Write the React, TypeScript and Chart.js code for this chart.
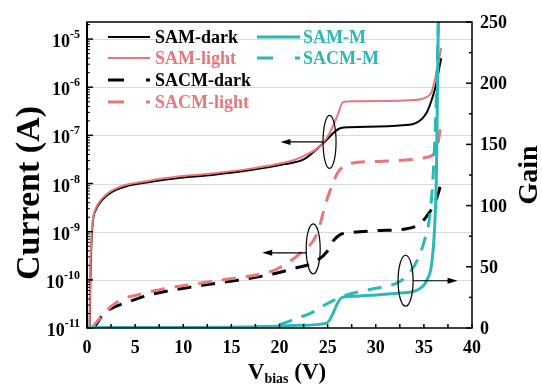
import React, { useEffect, useRef } from 'react';
import { Chart, registerables } from 'chart.js';
Chart.register(...registerables);

// ---- data ----
const samDarkV = [0.28, 0.35, 0.45, 0.6, 0.9, 1.35, 2, 2.7, 4, 6.2, 9.7, 13, 17, 20.4, 22.5, 24.5, 26.3, 27.3, 32.8, 34.3, 35.3, 35.8, 36.2, 36.6, 36.8];
const samDarkI = [1.0e-11, 1.0e-10, 5.0e-10, 1.58e-9, 2.8e-9, 4.0e-9, 5.5e-9, 6.9e-9, 8.7e-9, 1.05e-8, 1.32e-8, 1.51e-8, 1.9e-8, 2.5e-8, 3.16e-8, 6.76e-8, 1.41e-7, 1.48e-7, 1.62e-7, 1.86e-7, 3.0e-7, 5.37e-7, 1.0e-6, 2.5e-6, 4.0e-6];

const samLightV = [0.26, 0.33, 0.43, 0.6, 0.9, 1.35, 2, 2.7, 4, 6.2, 9.7, 13, 17, 20.4, 22.1, 24.9, 26.0, 26.6, 27.5, 34, 35.3, 35.8, 36.2, 36.5, 36.8];
const samLightI = [1.0e-11, 1.0e-10, 5.5e-10, 1.7e-9, 3.0e-9, 4.3e-9, 5.9e-9, 7.4e-9, 9.3e-9, 1.12e-8, 1.41e-8, 1.62e-8, 2.04e-8, 2.7e-8, 3.4e-8, 8.7e-8, 2.5e-7, 4.9e-7, 5.1e-7, 5.4e-7, 6.3e-7, 7.9e-7, 1.6e-6, 3.2e-6, 6.5e-6];

const sacmDarkV = [0.7, 1.2, 1.7, 3, 4.5, 6.2, 9.7, 13.1, 16.6, 19.3, 21.4, 23.9, 25, 25.6, 26.3, 27.3, 30, 33.2, 34.5, 35.3, 36, 36.5, 36.8];
const sacmDarkI = [1.0e-11, 1.41e-11, 2.0e-11, 2.8e-11, 3.6e-11, 4.7e-11, 6.5e-11, 8.3e-11, 1.05e-10, 1.32e-10, 1.7e-10, 2.5e-10, 4.0e-10, 6.5e-10, 8.7e-10, 9.5e-10, 1.05e-9, 1.15e-9, 1.41e-9, 2.1e-9, 3.5e-9, 6.3e-9, 1.05e-8];

const sacmLightV = [0.5, 0.9, 1.7, 2.5, 3.7, 5.5, 7.9, 11.4, 14.9, 18.7, 20, 22.1, 23.9, 24.9, 26, 26.8, 27.3, 30.8, 35.3, 36.3, 36.8];
const sacmLightI = [1.0e-11, 1.26e-11, 1.95e-11, 2.8e-11, 4.0e-11, 5.0e-11, 6.5e-11, 8.3e-11, 1.05e-10, 1.41e-10, 1.78e-10, 3.5e-10, 9.1e-10, 4.5e-9, 1.62e-8, 2.4e-8, 2.6e-8, 2.9e-8, 3.5e-8, 5.0e-8, 1.78e-7];

const samMV = [0, 5, 10, 15, 18, 20, 22, 24.9, 26.5, 28, 30, 32.5, 34.3, 35.3, 35.8, 36.1, 36.3, 36.5];
const samMGain = [0.5, 0.5, 0.5, 0.6, 1, 1.5, 2.2, 4, 25, 26, 27, 28.6, 31, 39, 52, 80, 125, 250];

const sacmMV = [0, 15, 19, 20.5, 21.8, 23.2, 25.2, 27, 29.1, 32.5, 33.5, 34.3, 35, 35.6, 36, 36.3, 36.5];
const sacmMGain = [0.3, 0.5, 1.5, 4, 8, 12, 21, 27, 31, 38, 45, 55, 70, 91, 130, 190, 250];

const xTicks = [0, 5, 10, 15, 20, 25, 30, 35, 40];
const gainTicks = [0, 50, 100, 150, 200, 250];
const currentExponents = [-11, -10, -9, -8, -7, -6, -5];
const legendLabels = ['SAM-dark', 'SAM-light', 'SACM-dark', 'SACM-light', 'SAM-M', 'SACM-M'];

const BLACK = '#000000';
const RED = '#E8767A';
const TEAL = '#2BB9B8';
const FONT = '"Liberation Serif", "Times New Roman", serif';

const pts = (xs: number[], ys: number[]) => xs.map((x, i) => ({ x, y: ys[i] }));

const drawArrow = (ctx: CanvasRenderingContext2D, x1: number, y1: number, x2: number, y2: number) => {
  ctx.save();
  ctx.strokeStyle = '#000';
  ctx.fillStyle = '#000';
  ctx.lineWidth = 1.2;
  const dir = Math.sign(x2 - x1);
  ctx.beginPath();
  ctx.moveTo(x1, y1);
  ctx.lineTo(x2 - dir * 6, y2);
  ctx.stroke();
  ctx.beginPath();
  ctx.moveTo(x2, y2);
  ctx.lineTo(x2 - dir * 10, y2 - 3);
  ctx.lineTo(x2 - dir * 10, y2 + 3);
  ctx.closePath();
  ctx.fill();
  ctx.restore();
};

const decorPlugin = {
  id: 'decor',
  beforeDatasetsDraw(chart: any) {
    const { ctx, chartArea: a, scales } = chart;
    ctx.save();
    ctx.strokeStyle = '#d9d9d9';
    ctx.lineWidth = 1;
    currentExponents.forEach((e) => {
      if (e === -11) return;
      const y = Math.round(scales.y.getPixelForValue(Math.pow(10, e))) + 0.5;
      ctx.beginPath();
      ctx.moveTo(a.left, y);
      ctx.lineTo(a.right, y);
      ctx.stroke();
    });
    ctx.restore();
  },
  afterDatasetsDraw(chart: any) {
    const { ctx, chartArea: a, scales } = chart;
    const sx = scales.x, sy = scales.y, sg = scales.gain;
    ctx.save();
    // frame
    ctx.strokeStyle = '#000';
    ctx.lineWidth = 1.5;
    ctx.strokeRect(a.left, a.top, a.right - a.left, a.bottom - a.top);
    ctx.beginPath();
    ctx.lineWidth = 2;
    ctx.moveTo(a.left, a.top);
    ctx.lineTo(a.left, a.bottom);
    ctx.stroke();
    ctx.lineWidth = 1.5;
    // x ticks
    for (let v = 0; v <= 40; v += 2.5) {
      const x = sx.getPixelForValue(v);
      ctx.beginPath();
      ctx.moveTo(x, a.bottom);
      ctx.lineTo(x, a.bottom - 4);
      ctx.stroke();
    }
    // left log ticks
    currentExponents.forEach((e) => {
      const y = sy.getPixelForValue(Math.pow(10, e));
      ctx.beginPath();
      ctx.moveTo(a.left, y);
      ctx.lineTo(a.left + 6, y);
      ctx.stroke();
      for (let m = 2; m <= 9; m++) {
        const val = m * Math.pow(10, e);
        if (val > sy.max) break;
        const ym = sy.getPixelForValue(val);
        ctx.beginPath();
        ctx.lineWidth = 1;
        ctx.moveTo(a.left, ym);
        ctx.lineTo(a.left + 3, ym);
        ctx.stroke();
        ctx.lineWidth = 1.5;
      }
    });
    // right ticks
    for (let g = 0; g <= 250; g += 25) {
      const y = sg.getPixelForValue(g);
      const major = g % 50 === 0;
      ctx.beginPath();
      ctx.moveTo(a.right, y);
      ctx.lineTo(a.right - (major ? 6 : 3), y);
      ctx.stroke();
    }
    // tick labels
    ctx.fillStyle = '#000';
    ctx.font = `bold 18px ${FONT}`;
    ctx.textBaseline = 'alphabetic';
    ctx.textAlign = 'center';
    xTicks.forEach((v) => {
      ctx.fillText(String(v), sx.getPixelForValue(v), a.bottom + 25);
    });
    ctx.textAlign = 'left';
    gainTicks.forEach((g) => {
      ctx.fillText(String(g), a.right + 8, sg.getPixelForValue(g) + 6);
    });
    currentExponents.forEach((e) => {
      const y = sy.getPixelForValue(Math.pow(10, e));
      const sup = String(e);
      ctx.font = `bold 12px ${FONT}`;
      const ws = ctx.measureText(sup).width;
      ctx.font = `bold 18px ${FONT}`;
      const wb = ctx.measureText('10').width;
      const right = a.left - 7;
      ctx.fillText('10', right - ws - wb, y + 8);
      ctx.font = `bold 12px ${FONT}`;
      ctx.fillText(sup, right - ws, y - 1);
    });
    // axis titles
    ctx.textAlign = 'center';
    ctx.font = `bold 34px ${FONT}`;
    ctx.save();
    ctx.translate(39, 193);
    ctx.rotate(-Math.PI / 2);
    ctx.fillText('Current (A)', 0, 0);
    ctx.restore();
    ctx.font = `bold 28px ${FONT}`;
    ctx.save();
    ctx.translate(537, 175);
    ctx.rotate(-Math.PI / 2);
    ctx.fillText('Gain', 0, 0);
    ctx.restore();
    // x title with subscript
    ctx.textAlign = 'left';
    ctx.font = `bold 23px ${FONT}`;
    const wV = ctx.measureText('V').width;
    ctx.font = `bold 14px ${FONT}`;
    const wSub = ctx.measureText('bias').width;
    ctx.font = `bold 23px ${FONT}`;
    const wRest = ctx.measureText(' (V)').width;
    const total = wV + wSub + wRest;
    let cx = 287 - total / 2;
    const by = 379;
    ctx.fillText('V', cx, by);
    cx += wV;
    ctx.font = `bold 14px ${FONT}`;
    ctx.fillText('bias', cx, by + 4);
    cx += wSub;
    ctx.font = `bold 23px ${FONT}`;
    ctx.fillText(' (V)', cx, by);

    // legend
    const rows = [37, 58, 80, 102];
    const items = [
      { col: 0, row: 0, color: BLACK, dash: [] as number[], w: 2 },
      { col: 0, row: 1, color: RED, dash: [], w: 2 },
      { col: 0, row: 2, color: BLACK, dash: [16, 22], w: 3 },
      { col: 0, row: 3, color: RED, dash: [16, 22], w: 3 },
      { col: 1, row: 0, color: TEAL, dash: [], w: 3 },
      { col: 1, row: 1, color: TEAL, dash: [16, 22], w: 3 },
    ];
    const cols = [{ x0: 108, x1: 150, tx: 155 }, { x0: 257, x1: 300, tx: 303 }];
    ctx.font = `bold 18px ${FONT}`;
    ctx.textBaseline = 'middle';
    items.forEach((it, i) => {
      const c = cols[it.col];
      const y = rows[it.row];
      ctx.strokeStyle = it.color;
      ctx.lineWidth = it.w;
      ctx.setLineDash(it.dash);
      ctx.beginPath();
      ctx.moveTo(c.x0, y);
      ctx.lineTo(c.x1, y);
      ctx.stroke();
      ctx.setLineDash([]);
      ctx.fillStyle = it.color;
      ctx.fillText(legendLabels[i], c.tx, y + 1);
    });

    // annotations: ellipses with arrows
    ctx.strokeStyle = '#000';
    ctx.lineWidth = 1.2;
    const ells = [
      { v: 25.2, i: 7.3e-8, rx: 6.5, ry: 26.5, toV: 20.1, dirRight: false, dy: 0 },
      { v: 23.5, i: 4.4e-10, rx: 7, ry: 25, toV: 18.2, dirRight: false, dy: 4 },
      { v: 33.1, g: 38.6, rx: 7.5, ry: 25.5, toV: 38.5, dirRight: true, dy: 0 },
    ];
    ells.forEach((e: any) => {
      const x = sx.getPixelForValue(e.v);
      const y = e.g !== undefined ? sg.getPixelForValue(e.g) : sy.getPixelForValue(e.i);
      ctx.beginPath();
      ctx.ellipse(x, y, e.rx, e.ry, 0, 0, Math.PI * 2);
      ctx.stroke();
      const x1 = e.dirRight ? x + e.rx : x - e.rx;
      drawArrow(ctx, x1, y + e.dy, sx.getPixelForValue(e.toV), y + e.dy);
    });
    ctx.restore();
  },
};

export default function App() {
  const ref = useRef<HTMLCanvasElement>(null);
  useEffect(() => {
    if (!ref.current) return;
    const mk = (label: string, xs: number[], ys: number[], color: string, dashed: boolean, w: number, axis: string, order: number) => ({
      label,
      data: pts(xs, ys),
      borderColor: color,
      backgroundColor: color,
      borderWidth: w,
      borderDash: dashed ? [14, 10] : [],
      pointRadius: 0,
      cubicInterpolationMode: 'monotone' as const,
      yAxisID: axis,
      order,
    });
    const chart = new Chart(ref.current, {
      type: 'line',
      data: {
        datasets: [
          mk(legendLabels[4], samMV, samMGain, TEAL, false, 3, 'gain', 0),
          mk(legendLabels[5], sacmMV, sacmMGain, TEAL, true, 3, 'gain', 1),
          mk(legendLabels[1], samLightV, samLightI, RED, false, 2, 'y', 2),
          mk(legendLabels[0], samDarkV, samDarkI, BLACK, false, 2, 'y', 3),
          mk(legendLabels[3], sacmLightV, sacmLightI, RED, true, 3, 'y', 4),
          mk(legendLabels[2], sacmDarkV, sacmDarkI, BLACK, true, 3, 'y', 5),
        ],
      },
      options: {
        animation: false,
        responsive: false,
        devicePixelRatio: 1,
        layout: { padding: { left: 87, right: 70, top: 22, bottom: 58 } },
        plugins: { legend: { display: false }, tooltip: { enabled: false } },
        scales: {
          x: { type: 'linear', min: 0, max: 40, display: false },
          y: { type: 'logarithmic', min: 1e-11, max: 2.26e-5, display: false },
          gain: { type: 'linear', min: 0, max: 250, display: false, position: 'right' },
        },
      },
      plugins: [decorPlugin],
    });
    return () => chart.destroy();
  }, []);
  return (
    <div style={{ position: 'fixed', left: 0, top: 0, width: 542, height: 386, background: '#fff' }}>
      <canvas ref={ref} width={542} height={386} />
    </div>
  );
}
